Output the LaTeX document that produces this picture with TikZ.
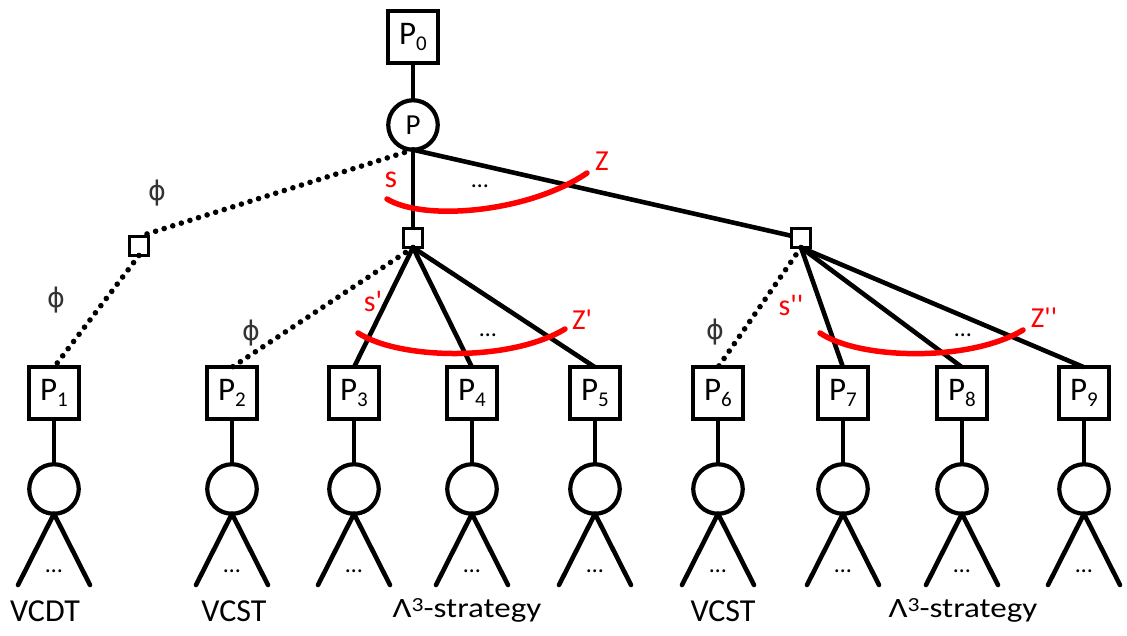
\documentclass[tikz,border=0pt]{standalone}
\usepackage{fontspec}
\setmainfont{Carlito}
\newfontfamily\dejavu{DejaVu Sans}
\newcommand{\Pn}[1]{P\raisebox{-6pt}{\fontsize{21}{21}\selectfont #1}}
\newcommand{\fs}[1]{\fontsize{#1}{#1}\selectfont}
\newcommand{\pr}{\textquotesingle}
\begin{document}
\begin{tikzpicture}[x=1pt,y=-1pt,
  every node/.style={inner sep=0pt, outer sep=0pt},
  pbox/.style={draw, line width=4.4pt, minimum width=50.5pt, minimum height=51.5pt, font=\fs{33}},
  sbox/.style={draw, line width=3.6pt, minimum size=19pt},
  cnode/.style={draw, circle, line width=4.2pt, minimum size=49.5pt, font=\fs{29}},
  edge/.style={line width=4.6pt},
  dotedge/.style={line width=5.6pt, line cap=round, dash pattern=on 0pt off 9pt},
  redarc/.style={red, line width=5.5pt, line cap=round},
  redlab/.style={text=red},
  philab/.style={text=black!80, font=\dejavu\fs{27}},
  ell/.style={font=\fs{24}},
  lab/.style={font=\fs{32}, anchor=base}
]
\useasboundingbox (0,0) rectangle (1127,635);

% root player and its game
\node[pbox] (p0) at (413,37) {\Pn{0}};
\node[cnode] (p) at (413,125) {P};
\draw[edge] (p0) -- (p);

% intermediate decision squares
\node[sbox] (sl) at (139,246) {};
\node[sbox] (sc) at (413,238) {};
\node[sbox] (sr) at (801,238) {};

% leaf players with their subtrees
\foreach \i/\x in {1/54,2/232,3/354,4/472,5/595,6/718,7/843,8/962,9/1084} {
  \node[pbox] (p\i) at (\x,393) {\Pn{\i}};
  \node[cnode] (c\i) at (\x,489) {};
  \coordinate (l\i) at (\x-36,585);
  \coordinate (r\i) at (\x+36,585);
  \draw[edge] (p\i) -- (c\i);
  \draw[edge, line cap=round] (c\i.south) -- (l\i);
  \draw[edge, line cap=round] (c\i.south) -- (r\i);
  \node[ell] (d\i) at (\x,571) {…};
}

% connectors from the root game
\draw[dotedge] (p.south) -- (sl.north);
\draw[edge] (p.south) -- (sc);
\draw[edge] (p.south) -- (sr);

% connectors to the leaf players
\draw[dotedge] (sl.south) -- (p1.north);
\draw[dotedge] (sc.south) -- (p2.north);
\foreach \i in {3,4,5} \draw[edge] (sc.south) -- (p\i.north);
\draw[dotedge] (sr.south) -- (p6.north);
\foreach \i in {7,8,9} \draw[edge] (sr.south) -- (p\i.north);

% red strategy ranges
\draw[redarc] (387,199) .. controls (425,222) and (530,212) .. (587,173);
\draw[redarc] (358,333) .. controls (400,360) and (510,362) .. (565,329);
\draw[redarc] (820,333) .. controls (860,360) and (970,362) .. (1023,330);

\node[redlab, font=\fs{32}] (s1) at (391,180) {s};
\node[redlab, font=\fs{29}] (z1) at (602,161) {Z};
\node[redlab, font=\fs{30}] (s2) at (373,301) {s\pr};
\node[redlab, font=\fs{29}] (z2) at (582,320) {Z\pr};
\node[redlab, font=\fs{30}] (s3) at (791,305) {s\pr\pr};
\node[redlab, font=\fs{29}] (z3) at (1044,318) {Z\pr\pr};

\node[ell] (e1) at (480,186) {…};
\node[ell] (e2) at (488,335) {…};
\node[ell] (e3) at (963,335) {…};

% empty-strategy labels
\node[philab] (f1) at (157,193) {ϕ};
\node[philab] (f2) at (56,300) {ϕ};
\node[philab] (f3) at (251,333) {ϕ};
\node[philab] (f4) at (715,332) {ϕ};

% strategy names under the subtrees
\node[lab] (t1) at (45,621) {VCDT};
\node[lab] (t2) at (234,621) {VCST};
\node[lab, font=\fs{28}] (t3) at (467,617) {\scalebox{1.18}[1]{Λ\raisebox{6pt}{\fs{20}3}-strategy}};
\node[lab] (t4) at (723,621) {VCST};
\node[lab, font=\fs{28}] (t5) at (963,617) {\scalebox{1.18}[1]{Λ\raisebox{6pt}{\fs{20}3}-strategy}};
\end{tikzpicture}
\end{document}
